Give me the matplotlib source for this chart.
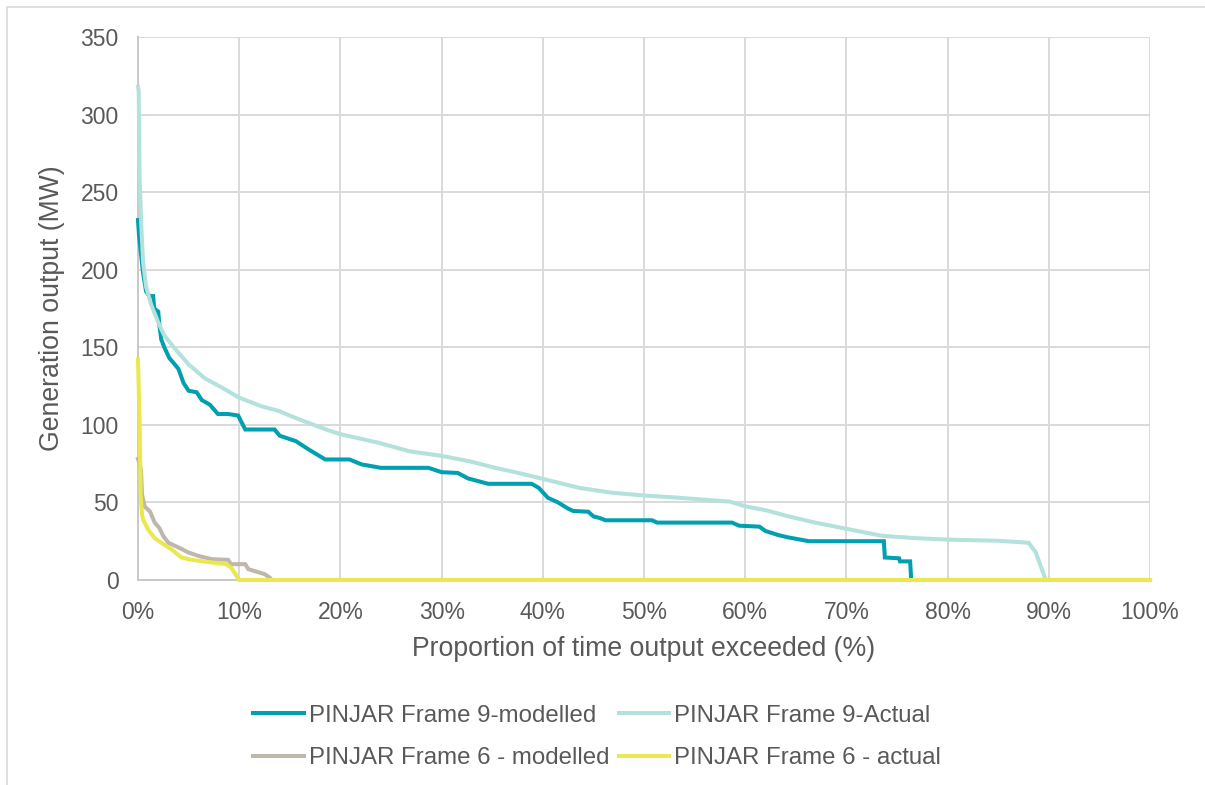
import matplotlib.pyplot as plt
from matplotlib.patches import Rectangle
from matplotlib.ticker import PercentFormatter

plt.rcParams['font.family'] = ['Liberation Sans', 'DejaVu Sans']

# Frame 9 - modelled
f9m_x = [0, 0.1, 0.3, 0.5, 0.8, 1.0, 1.2, 1.5, 1.6, 2.0, 2.1, 2.3, 2.6, 3.1, 3.5, 4.0, 4.5, 5.0,
         5.8, 6.3, 7.1, 7.9, 8.9, 9.9, 10.6, 13.5, 14.0, 15.6, 16.9, 18.5, 20.9, 22.1, 24.0, 28.7,
         30.0, 31.6, 32.6, 34.6, 38.9, 39.6, 40.5, 41.5, 42.5, 43.0, 44.5, 45.0, 45.6, 46.2, 50.8,
         51.3, 58.7, 59.4, 61.4, 62.0, 63.3, 64.3, 66.3, 73.7, 73.8, 75.2, 75.3, 76.3, 76.4, 100]
f9m_y = [232, 222, 210, 198, 186, 184, 183, 183, 175, 173, 165, 155, 150, 143, 140, 136, 127, 122,
         121, 116, 113, 107, 107, 106, 97, 97, 93, 89.5, 84, 77.7, 77.7, 74.5, 72.3, 72.3,
         69.5, 69, 65.5, 62, 62, 59.4, 53, 50, 46, 44.5, 44, 41, 40, 38.5, 38.5,
         37, 37, 35, 34.4, 31.6, 28.9, 27.4, 25, 25, 14.5, 14, 12, 12, 0, 0]

# Frame 9 - actual
f9a_x = [0, 0.07, 0.16, 0.33, 0.5, 0.8, 1.3, 2.0, 2.6, 3.6, 5.0, 6.6, 8.3, 10.0, 12.2, 13.9, 15.5,
         18.8, 20.0, 23.8, 26.8, 30.0, 32.7, 35.3, 37.6, 40.0, 43.6, 46.9, 50.0, 53.5, 58.5, 60.0,
         62.0, 64.3, 66.9, 70.0, 73.5, 76.8, 80.1, 85.0, 88.0, 88.7, 89.7, 100]
f9a_y = [318, 315, 258, 228, 205, 189, 177.5, 166, 157.6, 149.5, 139, 130, 124, 117.5, 112, 109, 104.6,
         96.5, 94, 88.4, 83, 80, 76.6, 72.3, 69, 65.2, 59.4, 56.2, 54.5, 53, 50.5, 47.5,
         45, 41, 37, 33, 28.5, 27, 26, 25.3, 24, 18, 0, 0]

# Frame 6 - modelled
f6m_x = [0, 0.2, 0.3, 0.4, 0.66, 1.2, 1.65, 2.1, 2.5, 3.0, 4.0, 5.0, 6.0, 7.3, 8.9, 9.2, 10.6,
         10.9, 11.9, 12.5, 13.0, 13.2, 100]
f6m_y = [78, 74, 70, 55, 47.4, 44, 37, 33.6, 28.3, 24, 21, 17.7, 15.5, 13.4, 13, 10.2, 10.2,
         7, 5, 3.8, 1.7, 0, 0]

# Frame 6 - actual
f6a_x = [0, 0.16, 0.26, 0.4, 0.5, 1.0, 1.65, 2.3, 3.3, 4.3, 5.3, 7.3, 8.7, 9.2, 10.0, 100]
f6a_y = [142, 101, 55, 42, 39, 32.5, 27, 24, 19.8, 14.5, 13, 11.3, 10.2, 8, 0, 0]

labels = ['PINJAR Frame 9-modelled', 'PINJAR Frame 9-Actual',
          'PINJAR Frame 6 - modelled', 'PINJAR Frame 6 - actual']
colors = ['#00A0B2', '#B3E1DC', '#BFB6AC', '#E9E84E']

txt = '#595959'

fig = plt.figure(figsize=(12.05, 7.85), dpi=100)
ax = fig.add_axes([138/1205, 1 - 580/785, (1150-138)/1205, (580-37)/785])

series = [(f9m_x, f9m_y), (f9a_x, f9a_y), (f6m_x, f6m_y), (f6a_x, f6a_y)]
lines = []
for (xs, ys), c, lab in zip(series, colors, labels):
    ln, = ax.plot(xs, ys, color=c, lw=2.9, label=lab, clip_on=False, solid_joinstyle='miter', zorder=3)
    lines.append(ln)

ax.set_xlim(0, 100)
ax.set_ylim(0, 350)
ax.set_xticks(range(0, 101, 10))
ax.set_yticks(range(0, 351, 50))
ax.xaxis.set_major_formatter(PercentFormatter(decimals=0))
ax.grid(True, color='#d9d9d9', lw=1.4, zorder=0)
ax.tick_params(length=0, labelsize=16.5, colors=txt)
ax.tick_params(axis='y', pad=14)
ax.tick_params(axis='x', pad=15)
for s in ['top', 'right']:
    ax.spines[s].set_visible(False)
ax.spines['left'].set_color('#c8c8c8')
ax.spines['left'].set_linewidth(1.4)
ax.spines['bottom'].set_color('#c8c8c8')
ax.spines['bottom'].set_linewidth(1.4)

ax.set_xlabel('Proportion of time output exceeded (%)', fontsize=19.2, color=txt, labelpad=9)
ax.set_ylabel('Generation output (MW)', fontsize=19.2, color=txt, labelpad=11)

# row-wise legend order
order = [0, 2, 1, 3]
leg = fig.legend([lines[i] for i in order], [labels[i] for i in order],
                 loc='center', bbox_to_anchor=(597/1205, 1 - 737/785), ncol=2, frameon=False,
                 fontsize=17.3, handlelength=2.1, handletextpad=0.2, columnspacing=0.4,
                 labelspacing=0.85)
for t in leg.get_texts():
    t.set_color(txt)

# chart area border
fig.add_artist(Rectangle((7/1205, -0.5), 1.5, 1.5 - 7/785, transform=fig.transFigure,
                         fill=False, edgecolor='#d9d9d9', lw=1.2))

fig.savefig('out.png', dpi=100)
